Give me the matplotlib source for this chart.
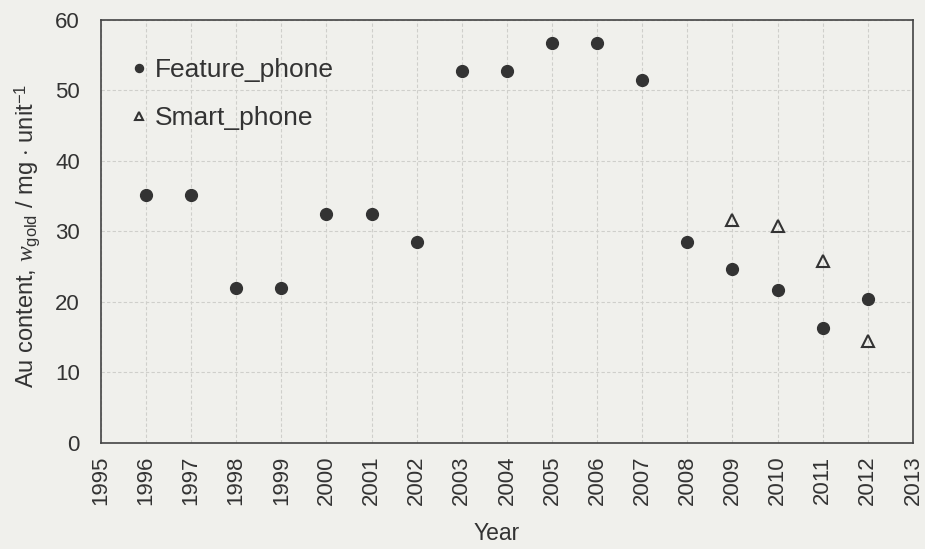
import matplotlib
matplotlib.use('Agg')
import matplotlib.pyplot as plt

plt.rcParams['font.family'] = ['Liberation Sans', 'DejaVu Sans']
plt.rcParams['mathtext.fontset'] = 'custom'
plt.rcParams['mathtext.rm'] = 'Liberation Sans'
plt.rcParams['mathtext.it'] = 'Liberation Serif:italic'

# gold content per unit, by year
feature_years = [1996, 1997, 1998, 1999, 2000, 2001, 2002, 2003, 2004,
                 2005, 2006, 2007, 2008, 2009, 2010, 2011, 2012]
feature_gold = [35.2, 35.2, 22.0, 22.0, 32.5, 32.5, 28.5, 52.8, 52.8,
                56.7, 56.7, 51.5, 28.5, 24.6, 21.7, 16.3, 20.4]
smart_years = [2009, 2010, 2011, 2012]
smart_gold = [31.6, 30.7, 25.8, 14.4]
year_ticks = list(range(1995, 2014))

bg = '#f0f0ec'
ink = '#333333'

fig = plt.figure(figsize=(9.25, 5.49), dpi=100, facecolor=bg)
ax = fig.add_axes([0.109, 0.193, 0.878, 0.771], facecolor=bg)

ax.plot(feature_years, feature_gold, 'o', ms=8.5, color=ink, label='Feature_phone')
ax.plot(smart_years, smart_gold, '^', ms=9, mfc='none', mec=ink, mew=1.5,
        label='Smart_phone')

ax.set_xlim(1995, 2013)
ax.set_ylim(0, 60)
ax.set_xticks(year_ticks)
ax.set_xticklabels([str(y) for y in year_ticks], rotation=90)
ax.set_yticks(range(0, 61, 10))
ax.tick_params(length=0, labelsize=16, colors=ink)
ax.tick_params(axis='y', pad=15)
ax.tick_params(axis='x', pad=9)
ax.grid(True, ls=(0, (3, 2)), color='#cfcfcb', lw=0.8)
ax.set_axisbelow(True)
for s in ax.spines.values():
    s.set_color('#444444')
    s.set_linewidth(1.2)

ax.set_xlabel('Year', fontsize=16.5, color=ink)
ax.xaxis.set_label_coords(0.488, -0.186)
ax.set_ylabel(r'Au content, $w_{\mathrm{gold}}$ / mg $\cdot$ unit$^{-1}$',
              fontsize=17, color=ink)
ax.yaxis.set_label_coords(-0.073, 0.49)

leg = ax.legend(loc='upper left', frameon=False, fontsize=19, markerscale=0.68,
                handlelength=0.5, handletextpad=0.35, labelspacing=0.92,
                borderaxespad=0, bbox_to_anchor=(0.026, 0.935))
for t in leg.get_texts():
    t.set_color(ink)

fig.savefig('out.png', dpi=100, facecolor=bg)
